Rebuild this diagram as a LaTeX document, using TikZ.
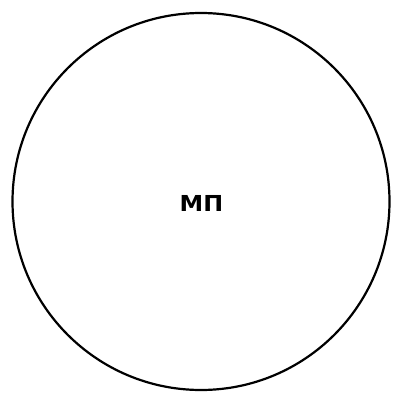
\documentclass[tikz,border=0pt]{standalone}
\usepackage{fontspec}
\newfontfamily\labelfont{DejaVu Sans}
\begin{document}
\begin{tikzpicture}[x=1pt,y=-1pt,
  ring/.style={circle,draw=black,line width=2.2pt,minimum size=377pt,inner sep=0pt},
  lbl/.style={font=\labelfont\bfseries\fontsize{22}{24}\selectfont,text=black,inner sep=0pt,xscale=1.08}]
\useasboundingbox (0,0) rectangle (393,393);
\node[ring] (c) at (201,201.5) {};
\node[lbl] (t) at (201.5,203) {МП};
\end{tikzpicture}
\end{document}
